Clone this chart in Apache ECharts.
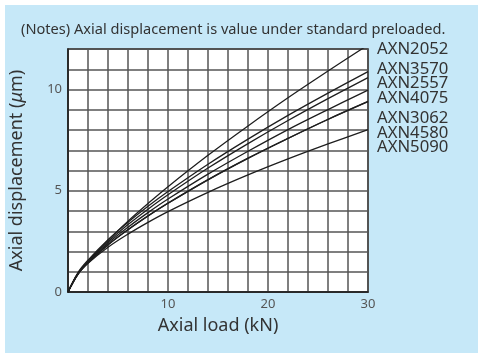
<!DOCTYPE html>
<html><head><meta charset="utf-8">
<script src="https://cdn.jsdelivr.net/npm/echarts@6/dist/echarts.min.js"></script>
<style>html,body{margin:0;padding:0;background:#fff}#c{width:478px;height:353px}</style>
</head><body><div id="c"></div>
<script>
const loads = [0, 1, 2, 4, 6, 8, 10, 14, 18, 22, 26, 30];
const seriesNames = ['AXN2052', 'AXN3570', 'AXN2557', 'AXN4075', 'AXN3062', 'AXN4580', 'AXN5090'];
const AXN2052 = [0, 0.87, 1.49, 2.55, 3.50, 4.37, 5.20, 6.75, 8.20, 9.59, 10.91, 12.20];
const AXN3570 = [0, 0.96, 1.57, 2.58, 3.44, 4.23, 4.96, 6.31, 7.55, 8.72, 9.82, 10.88];
const AXN2557 = [0, 0.92, 1.51, 2.48, 3.33, 4.09, 4.80, 6.12, 7.33, 8.47, 9.55, 10.59];
const AXN4075 = [0, 0.90, 1.47, 2.41, 3.20, 3.92, 4.59, 5.82, 6.95, 8.02, 9.01, 9.97];
const AXN3062 = [0, 0.89, 1.44, 2.33, 3.08, 3.76, 4.39, 5.55, 6.61, 7.59, 8.53, 9.41];
const AXN4580 = [0, 0.89, 1.44, 2.32, 3.07, 3.75, 4.38, 5.54, 6.60, 7.58, 8.52, 9.40];
const AXN5090 = [0, 0.91, 1.42, 2.21, 2.86, 3.44, 3.97, 4.92, 5.78, 6.57, 7.31, 8.02];
const values = [AXN2052, AXN3570, AXN2557, AXN4075, AXN3062, AXN4580, AXN5090];
const titleText = '(Notes) Axial displacement is value under standard preloaded.';
const xName = 'Axial load (kN)';
const yTickLabels = [0, 5, 10];
const xTickLabels = [10, 20, 30];

const FONT = 'Noto Sans';
const labelY = [50.7, 70.7, 84, 99, 119, 134, 148];

const chart = echarts.init(document.getElementById('c'), null, {renderer: 'canvas'});
const series = seriesNames.map((n, i) => ({
  name: n, type: 'line', smooth: 0.35, symbol: 'none', clip: true,
  data: loads.map((x, j) => [x, values[i][j]]),
  lineStyle: {color: '#1e1e1e', width: 1.3}
}));

const graphics = [
  {type: 'rect', left: 5, top: 5, shape: {width: 473, height: 348}, style: {fill: '#c6e8f8'}, z: -10, silent: true}
];
seriesNames.forEach((n, i) => {
  graphics.push({type: 'text', left: 377, top: labelY[i] - 9.5,
    style: {text: n, fontSize: 16.7, fontFamily: FONT, fill: '#333', textVerticalAlign: 'top'}});
});

chart.setOption({
  animation: false,
  backgroundColor: '#fff',
  title: {text: titleText, left: 21, top: 22, padding: 0,
    textStyle: {fontSize: 14.6, fontWeight: 'normal', color: '#333', fontFamily: FONT}},
  grid: {left: 66, right: 110, top: 49, bottom: 61, show: true, backgroundColor: '#fff',
    borderColor: '#1e1e1e', borderWidth: 1.5, containLabel: false},
  xAxis: {
    type: 'value', min: 0, max: 30, interval: 2,
    name: xName, nameLocation: 'middle', nameGap: 25,
    nameTextStyle: {fontSize: 18, color: '#333', fontFamily: FONT},
    axisLine: {show: true, lineStyle: {color: '#1e1e1e', width: 1.5}},
    axisTick: {show: false},
    axisLabel: {margin: 6, fontSize: 13, color: '#555', fontFamily: FONT,
      formatter: v => xTickLabels.includes(v) ? String(v) : ''},
    splitLine: {show: true, lineStyle: {color: '#555', width: 1.5}}
  },
  yAxis: {
    type: 'value', min: 0, max: 12, interval: 1,
    name: 'Axial displacement ({i|μ}m)', nameLocation: 'middle', nameGap: 42, nameRotate: 90,
    nameTextStyle: {fontSize: 18, color: '#333', fontFamily: FONT,
      rich: {i: {fontStyle: 'italic', fontSize: 18, color: '#333', fontFamily: FONT}}},
    axisLine: {show: true, lineStyle: {color: '#1e1e1e', width: 1.5}},
    axisTick: {show: false},
    axisLabel: {margin: 6, fontSize: 13, color: '#555', fontFamily: FONT,
      formatter: v => yTickLabels.includes(v) ? String(v) : ''},
    splitLine: {show: true, lineStyle: {color: '#555', width: 1.5}}
  },
  graphic: graphics,
  series: series
});
</script></body></html>
